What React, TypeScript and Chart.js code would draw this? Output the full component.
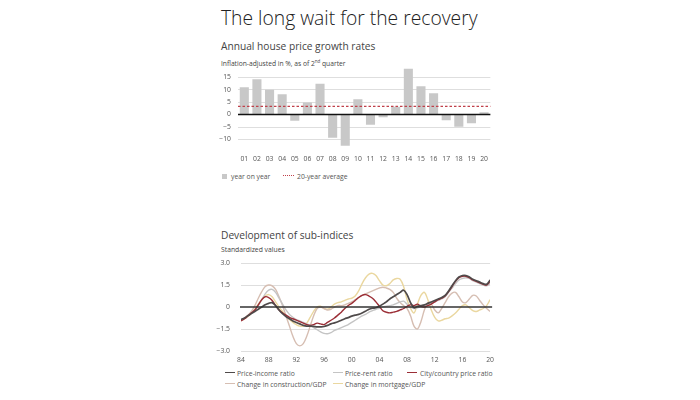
import React, { useEffect, useRef } from "react";
import { Chart, registerables } from "chart.js";

Chart.register(...registerables);

// ---------- Top panel data ----------
const barYears = ["01", "02", "03", "04", "05", "06", "07", "08", "09", "10", "11", "12", "13", "14", "15", "16", "17", "18", "19", "20"];
const yoyGrowth = [10.9, 14.1, 9.9, 8.1, -2.5, 4.8, 12.3, -9.3, -12.5, 6.1, -4.1, -1.1, 3.1, 18.3, 11.3, 8.5, -2.3, -4.9, -3.5, 0.9];
const avgGrowth = 3.3;
const barTicks = [-10, -5, 0, 5, 10, 15];

// ---------- Bottom panel data (half-yearly, 1984 H1 .. 2020 H1) ----------
const lineYears: number[] = [];
for (let y = 1984; y <= 2020; y += 0.5) lineYears.push(y);
const lineTicks = [-3, -1.5, 0, 1.5, 3];
const lineTickLabels = ["−3.0", "−1.5", "0", "1.5", "3.0"];

const priceIncome = [
  -0.85, -0.75, -0.6, -0.45, -0.3, -0.15, 0.0, 0.15, 0.25, 0.3,
  0.1, -0.2, -0.45, -0.65, -0.8, -0.95, -1.05, -1.15, -1.25, -1.3,
  -1.3, -1.32, -1.35, -1.35, -1.33, -1.25, -1.15, -1.08, -1.0, -0.9,
  -0.8, -0.72, -0.62, -0.55, -0.5, -0.4, -0.28, -0.15, -0.08, -0.05,
  0.05, 0.2, 0.35, 0.55, 0.7, 0.85, 1.0, 1.15, 0.85, 0.3,
  -0.05, 0.05, 0.1, 0.15, 0.25, 0.35, 0.45, 0.55, 0.65, 0.8,
  1.1, 1.45, 1.8, 2.05, 2.15, 2.15, 2.05, 1.9, 1.8, 1.7,
  1.6, 1.55, 1.85,
];
const priceRent = [
  -0.9, -0.8, -0.6, -0.4, -0.2, 0.1, 0.5, 0.9, 1.15, 1.2,
  1.0, 0.6, 0.2, -0.2, -0.5, -0.7, -0.85, -0.95, -1.05, -1.15,
  -1.25, -1.4, -1.55, -1.7, -1.8, -1.82, -1.75, -1.6, -1.5, -1.4,
  -1.3, -1.2, -1.05, -0.9, -0.75, -0.6, -0.5, -0.35, -0.25, -0.15,
  -0.08, 0.0, 0.05, 0.1, 0.15, 0.25, 0.35, 0.4, 0.2, 0.0,
  -0.1, -0.05, 0.05, 0.1, 0.15, 0.25, 0.35, 0.45, 0.55, 0.7,
  1.0, 1.3, 1.6, 1.85, 1.95, 2.0, 1.95, 1.8, 1.7, 1.6,
  1.5, 1.45, 1.6,
];
const cityCountry = [
  -0.95, -0.8, -0.6, -0.4, -0.2, 0.15, 0.5, 0.7, 0.65, 0.45,
  0.1, -0.2, -0.4, -0.55, -0.7, -0.8, -0.9, -1.0, -1.1, -1.2,
  -1.25, -1.2, -1.1, -1.15, -1.2, -1.05, -0.9, -0.75, -0.55, -0.35,
  -0.1, 0.1, 0.25, 0.45, 0.65, 0.8, 0.85, 0.75, 0.6, 0.35,
  0.05, -0.25, -0.35, -0.4, -0.35, -0.3, -0.2, -0.1, 0.05, 0.15,
  0.1, 0.2, 0.05, 0.0, 0.1, 0.2, 0.35, 0.5, 0.6, 0.75,
  1.05, 1.4, 1.75, 2.0, 2.1, 2.1, 2.0, 1.85, 1.75, 1.65,
  1.55, 1.5, 1.75,
];
const constructionGdp = [
  -0.9, -0.75, -0.55, -0.3, 0.1, 0.6, 1.05, 1.4, 1.5, 1.45,
  1.2, 0.7, 0.1, -0.6, -1.3, -2.0, -2.5, -2.65, -2.5, -2.0,
  -1.3, -0.6, -0.1, 0.0, -0.1, -0.2, -0.15, 0.0, 0.1, 0.1,
  0.15, 0.25, 0.35, 0.5, 0.65, 0.8, 0.9, 1.0, 1.1, 1.2,
  1.3, 1.35, 1.3, 1.2, 1.0, 0.6, 0.3, 0.1, -0.1, -0.6,
  -1.3, -1.5, -1.0, -0.2, 0.3, 0.2, -0.2, -0.4, -0.1, 0.3,
  0.7, 0.95, 1.0, 0.7, 0.35, 0.3, 0.55, 0.8, 0.75, 0.45,
  0.15, -0.1, -0.3,
];
const mortgageGdp = [
  -0.9, -0.8, -0.65, -0.4, -0.15, 0.2, 0.5, 0.75, 0.85, 0.7,
  0.35, 0.0, -0.3, -0.6, -0.85, -1.05, -1.2, -1.3, -1.3, -1.1,
  -0.7, -0.3, 0.0, 0.05, -0.1, -0.15, 0.0, 0.2, 0.3, 0.35,
  0.45, 0.55, 0.6, 0.75, 1.1, 1.6, 2.0, 2.25, 2.3, 2.15,
  1.8, 1.5, 1.45, 1.6, 1.85, 1.95, 1.9, 1.4, 0.5, -0.1,
  -0.4, 0.2, 0.8, 1.0, 0.5, -0.2, -0.7, -0.95, -0.9, -0.8,
  -0.75, -0.6, -0.4, -0.15, 0.1, 0.15, -0.05, -0.25, -0.3, -0.2,
  -0.1, 0.1, 0.5,
];

const FONT = "'Open Sans', 'Noto Sans', sans-serif";
const TICK_COLOR = "#555";
const GRID_COLOR = "#d6d6d6";
const SMALL = 6.8;

const COLORS = {
  bar: "#c8c8c8",
  avg: "#c0404a",
  priceIncome: "#4f4a4a",
  priceRent: "#c4c4c4",
  cityCountry: "#9b2e36",
  construction: "#d6beb2",
  mortgage: "#ead79f",
};

function toPoints(values: number[]) {
  return values.map((v, i) => ({ x: lineYears[i], y: v }));
}

function fmtMinus(v: number) {
  return v < 0 ? "−" + Math.abs(v) : String(v);
}

const topOverlay = {
  id: "topOverlay",
  afterDatasetsDraw(chart: any) {
    const { ctx, chartArea, scales } = chart;
    const y0 = scales.y.getPixelForValue(0);
    const ya = scales.y.getPixelForValue(avgGrowth);
    ctx.save();
    ctx.strokeStyle = COLORS.avg;
    ctx.lineWidth = 1.2;
    ctx.setLineDash([2.5, 2]);
    ctx.beginPath();
    ctx.moveTo(chartArea.left, ya);
    ctx.lineTo(chartArea.right, ya);
    ctx.stroke();
    ctx.setLineDash([]);
    ctx.strokeStyle = "#111";
    ctx.lineWidth = 1.5;
    ctx.beginPath();
    ctx.moveTo(chartArea.left, y0);
    ctx.lineTo(chartArea.right, y0);
    ctx.stroke();
    ctx.restore();
  },
};

const zeroOverlay = {
  id: "zeroOverlay",
  afterDatasetsDraw(chart: any) {
    const { ctx, chartArea, scales } = chart;
    const y0 = scales.y.getPixelForValue(0);
    ctx.save();
    ctx.strokeStyle = "#333";
    ctx.lineWidth = 1.5;
    ctx.beginPath();
    ctx.moveTo(chartArea.left - 1, y0);
    ctx.lineTo(chartArea.right + 2, y0);
    ctx.stroke();
    ctx.restore();
  },
};

function BarPanel() {
  const ref = useRef<HTMLCanvasElement>(null);
  useEffect(() => {
    const chart = new Chart(ref.current!, {
      type: "bar",
      data: {
        labels: barYears,
        datasets: [
          {
            label: "year on year",
            data: yoyGrowth,
            backgroundColor: COLORS.bar,
            barPercentage: 0.72,
            categoryPercentage: 1,
          },
        ],
      },
      options: {
        animation: false,
        responsive: false,
        maintainAspectRatio: false,
        layout: { padding: { top: 6.7, right: 2, left: 0, bottom: 0 } },
        plugins: { legend: { display: false }, tooltip: { enabled: false } },
        scales: {
          x: {
            grid: { display: false, drawTicks: false },
            border: { display: false },
            ticks: { color: TICK_COLOR, font: { family: FONT, size: SMALL }, padding: 8, autoSkip: false, maxRotation: 0 },
            afterFit: (s: any) => {
              s.height = 20;
            },
          },
          y: {
            min: -13,
            max: 19,
            afterBuildTicks: (s: any) => {
              s.ticks = barTicks.map((v) => ({ value: v }));
            },
            grid: {
              color: (c: any) => (c.tick && c.tick.value === 0 ? "rgba(0,0,0,0)" : GRID_COLOR),
              lineWidth: 0.8,
              drawTicks: false,
            },
            border: { display: false },
            ticks: {
              color: TICK_COLOR,
              font: { family: FONT, size: SMALL },
              padding: 7,
              callback: (v: any) => fmtMinus(Number(v)),
            },
            afterFit: (s: any) => {
              s.width = 28;
            },
          },
        },
      },
      plugins: [topOverlay],
    } as any);
    return () => chart.destroy();
  }, []);
  return (
    <canvas
      ref={ref}
      width={286}
      height={111}
      style={{ position: "absolute", left: 210, top: 56, width: 286, height: 111 }}
    />
  );
}

function LinePanel() {
  const ref = useRef<HTMLCanvasElement>(null);
  useEffect(() => {
    const mk = (label: string, values: number[], color: string, width: number) => ({
      label,
      data: toPoints(values),
      borderColor: color,
      backgroundColor: color,
      borderWidth: width,
      pointRadius: 0,
      tension: 0.35,
      fill: false,
    });
    const chart = new Chart(ref.current!, {
      type: "line",
      data: {
        datasets: [
          mk("Price-income ratio", priceIncome, COLORS.priceIncome, 1.7),
          mk("City/country price ratio", cityCountry, COLORS.cityCountry, 1.4),
          mk("Price-rent ratio", priceRent, COLORS.priceRent, 1.4),
          mk("Change in construction/GDP", constructionGdp, COLORS.construction, 1.4),
          mk("Change in mortgage/GDP", mortgageGdp, COLORS.mortgage, 1.4),
        ],
      },
      options: {
        animation: false,
        responsive: false,
        maintainAspectRatio: false,
        layout: { padding: { top: 7.3, right: 2, left: 0, bottom: 0 } },
        plugins: { legend: { display: false }, tooltip: { enabled: false } },
        scales: {
          x: {
            type: "linear",
            min: 1984,
            max: 2020,
            grid: { display: false, drawTicks: false },
            border: { display: false },
            ticks: {
              stepSize: 4,
              color: TICK_COLOR,
              font: { family: FONT, size: SMALL },
              padding: 5,
              maxRotation: 0,
              callback: (v: any) => String(Number(v) % 100).padStart(2, "0"),
            },
            afterFit: (s: any) => {
              s.height = 18;
            },
          },
          y: {
            min: -3,
            max: 3,
            afterBuildTicks: (s: any) => {
              s.ticks = lineTicks.map((v) => ({ value: v }));
            },
            grid: {
              color: (c: any) => (c.tick && c.tick.value === 0 ? "rgba(0,0,0,0)" : GRID_COLOR),
              lineWidth: 0.8,
              drawTicks: false,
            },
            border: { display: false },
            ticks: {
              color: TICK_COLOR,
              font: { family: FONT, size: SMALL },
              padding: 11,
              callback: (v: any) => {
                const i = lineTicks.indexOf(Number(v));
                return i >= 0 ? lineTickLabels[i] : "";
              },
            },
            afterFit: (s: any) => {
              s.width = 31;
            },
          },
        },
      },
      plugins: [zeroOverlay],
    } as any);
    return () => chart.destroy();
  }, []);
  return (
    <canvas
      ref={ref}
      width={289}
      height={121}
      style={{ position: "absolute", left: 210, top: 248, width: 289, height: 121 }}
    />
  );
}

function Txt(props: { x: number; y: number; size: number; color?: string; weight?: number; children: React.ReactNode; ls?: number }) {
  const lh = Math.round(props.size * 1.3);
  return (
    <div
      style={{
        position: "absolute",
        left: props.x,
        top: props.y - lh / 2,
        fontSize: props.size,
        lineHeight: lh + "px",
        color: props.color || "#333",
        fontWeight: props.weight || 400,
        whiteSpace: "nowrap",
        letterSpacing: props.ls || 0,
      }}
    >
      {props.children}
    </div>
  );
}

function LineSwatch(props: { x: number; y: number; color: string; w?: number; dash?: boolean }) {
  return (
    <div
      style={{
        position: "absolute",
        left: props.x,
        top: props.y - 1,
        width: props.w || 10,
        height: 0,
        borderTop: (props.dash ? "1.3px dotted " : "1.6px solid ") + props.color,
      }}
    />
  );
}

export default function App() {
  return (
    <div
      style={{
        position: "absolute",
        left: 0,
        top: 0,
        width: 700,
        height: 400,
        background: "#fff",
        fontFamily: FONT,
        overflow: "hidden",
      }}
    >
      <Txt x={221} y={17} size={19.3} color="#222" weight={300}>
        The long wait for the recovery
      </Txt>
      <Txt x={221} y={46} size={10.2} color="#444">
        Annual house price growth rates
      </Txt>
      <Txt x={221} y={61} size={6.7} color="#444">
        Inflation-adjusted in %, as of 2<sup style={{ fontSize: 4.5 }}>nd</sup> quarter
      </Txt>
      <BarPanel />
      <div style={{ position: "absolute", left: 222, top: 173.5, width: 5, height: 5, background: COLORS.bar }} />
      <Txt x={231} y={176} size={SMALL} color="#555">
        year on year
      </Txt>
      <LineSwatch x={283} y={176} color={COLORS.avg} w={11} dash />
      <Txt x={297} y={176} size={SMALL} color="#555">
        20-year average
      </Txt>

      <Txt x={221} y={235} size={10.2} color="#444">
        Development of sub-indices
      </Txt>
      <Txt x={221} y={249} size={SMALL} color="#444">
        Standardized values
      </Txt>
      <LinePanel />
      <LineSwatch x={225} y={373} color={COLORS.priceIncome} />
      <Txt x={237} y={373} size={SMALL} color="#555">Price-income ratio</Txt>
      <LineSwatch x={333} y={373} color={COLORS.priceRent} />
      <Txt x={345} y={373} size={SMALL} color="#555">Price-rent ratio</Txt>
      <LineSwatch x={407} y={373} color={COLORS.cityCountry} />
      <Txt x={420} y={373} size={SMALL} color="#555">City/country price ratio</Txt>
      <LineSwatch x={225} y={384} color={COLORS.construction} />
      <Txt x={237} y={384} size={SMALL} color="#555">Change in construction/GDP</Txt>
      <LineSwatch x={333} y={384} color={COLORS.mortgage} />
      <Txt x={345} y={384} size={SMALL} color="#555">Change in mortgage/GDP</Txt>
    </div>
  );
}
